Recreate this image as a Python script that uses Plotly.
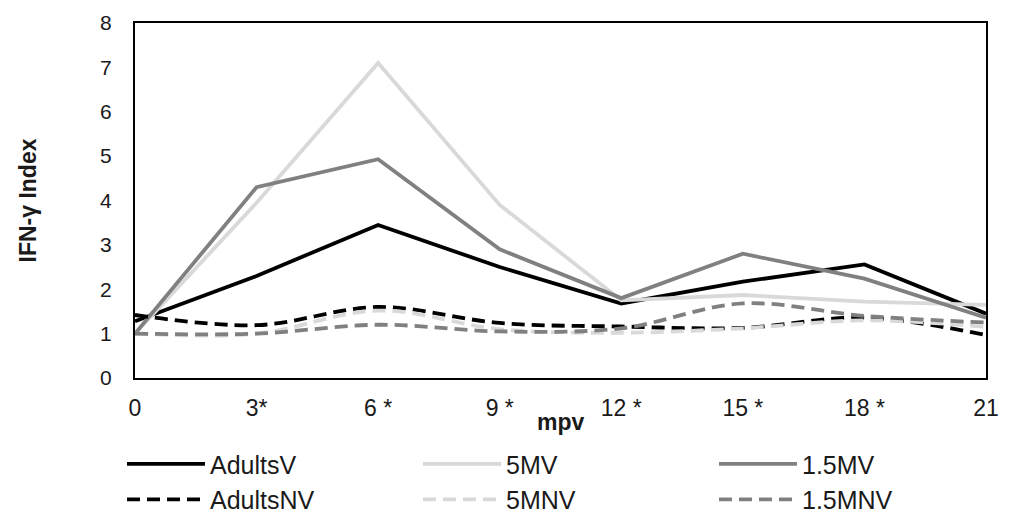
import plotly.graph_objects as go

categories = ["0", "3*", "6 *", "9 *", "12 *", "15 *", "18 *", "21"]
adults_v = [1.28, 2.3, 3.45, 2.5, 1.68, 2.17, 2.56, 1.45]
m5_v = [1.0, 3.95, 7.1, 3.9, 1.75, 1.87, 1.72, 1.65]
m15_v = [1.0, 4.3, 4.93, 2.9, 1.8, 2.8, 2.24, 1.36]
adults_nv = [1.42, 1.19, 1.6, 1.24, 1.16, 1.13, 1.36, 0.97]
m5_nv = [1.0, 1.0, 1.52, 1.1, 1.02, 1.12, 1.3, 1.15]
m15_nv = [1.0, 1.0, 1.2, 1.05, 1.12, 1.68, 1.4, 1.25]

series = [
    ("AdultsV", adults_v, "#000000", "solid"),
    ("5MV", m5_v, "#d9d9d9", "solid"),
    ("1.5MV", m15_v, "#808080", "solid"),
    ("AdultsNV", adults_nv, "#000000", "13px,7px"),
    ("5MNV", m5_nv, "#d9d9d9", "13px,7px"),
    ("1.5MNV", m15_nv, "#808080", "13px,7px"),
]

fig = go.Figure()
for name, vals, color, dash in series:
    fig.add_trace(go.Scatter(
        x=categories, y=vals, name=name, mode="lines",
        line=dict(color=color, width=3.8, dash=dash,
                  shape="linear" if dash == "solid" else "spline"),
    ))

font = "Liberation Sans, Arial, sans-serif"
fig.update_layout(
    width=1011, height=516,
    margin=dict(l=135, r=25, t=23, b=138, autoexpand=False),
    paper_bgcolor="white", plot_bgcolor="white",
    font=dict(family=font, size=21, color="#1a1a1a"),
    showlegend=True,
    legend=dict(orientation="h", x=-0.0153, xanchor="left", y=-0.178, yanchor="top",
                xref="paper", yref="paper", entrywidth=203, entrywidthmode="pixels",
                itemwidth=78, font=dict(size=25), tracegroupgap=0,
                traceorder="normal", bgcolor="rgba(0,0,0,0)"),
    annotations=[dict(text="<b>mpv</b>", xref="paper", yref="paper", x=0.5, y=0,
                      xanchor="center", yanchor="middle", yshift=-44,
                      showarrow=False, font=dict(size=23))],
)
fig.update_xaxes(
    type="category", range=[0, 7], showgrid=False, automargin=False,
    showline=True, linecolor="#000000", linewidth=2, mirror=True,
    ticks="", ticklabelstandoff=8, tickfont=dict(size=23),
)
fig.update_yaxes(
    range=[0, 8], dtick=1, showgrid=False, zeroline=False, automargin=False,
    showline=True, linecolor="#000000", linewidth=2, mirror=True,
    ticks="", ticklabelstandoff=17, tickfont=dict(size=21),
    title=dict(text="<b>IFN-γ Index</b>", standoff=57, font=dict(size=23)),
)
fig.write_html("out.html", config={"displayModeBar": False},
               post_script="document.body.style.margin='0px';")
